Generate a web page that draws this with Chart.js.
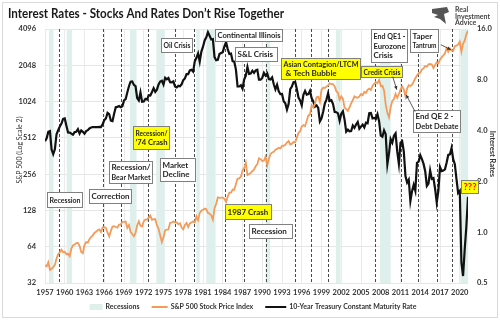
<!DOCTYPE html>
<html><head><meta charset="utf-8">
<script src="https://cdn.jsdelivr.net/npm/chart.js@4.4.1/dist/chart.umd.min.js"></script>
<style>html,body{margin:0;padding:0;background:#fff}#wrap{width:500px;height:322px;position:relative}</style>
</head><body><div id="wrap"><canvas id="c" width="500" height="322"></canvas></div>
<script>
// ---------- DATA (quarterly, starting Q1 1957) ----------
const startYear = 1957;
const spx = [
45,44,47.5,41, 42,43.4,45.2,51, 55.5,57.6,60.5,57.5, 58,55.3,56,53.4, 61.8,65.5,66.8,68.6,
68.8,65.2,57.8,56.5, 66.2,69.8,69.1,74, 77,79.5,83.2,85, 87.6,89.1,84.9,92.4, 92.9,91.6,83.6,78,
86.6,94,94.8,93.3, 92.2,97.5,97.7,103, 103,103.7,91.8,97.1, 85,81.5,78,83.3, 95.9,103.9,95.6,94.2,
103.9,107.7,107.2,111.6, 116,106.9,108.2,108.3, 96.6,90.3,79.3,70, 76.9,87.3,88.8,89, 100.9,101.6,103.4,102.1,
102,98.4,100.2,92.3, 89.3,96.8,100.7,93.2, 99.9,101.8,103.8,101.8, 114.2,106.3,121.7,127.5, 129.6,132.8,130.9,122,
120.4,116.4,107.1,133.7, 145.3,164.4,162.6,163.6, 163.4,160,150.7,166.1, 179.6,179.8,190.9,189.8, 211.8,235.5,236.1,243.9,
274.1,288.4,318.7,251.8, 257.1,261.3,272,278.9, 297.5,309.6,346,340.4, 329,330.8,356.2,304, 343.9,375.3,387.8,392.5,
408.8,414.9,424.2,418.7, 438.8,440.2,448.1,467.8, 481.6,450.9,458.3,472.4, 470.4,514.7,562.1,581.5, 636,654.2,639.9,705.3,
786.2,801.3,954.3,914.6, 980.3,1111.8,1120.7,1017, 1279.6,1335.2,1328.7,1362.9, 1394.5,1452.4,1430.8,1429.4, 1366,1249.5,1211.2,1059.8,
1130.2,1076.9,911.6,885.8, 855.7,916.9,990.3,1050.7, 1131.1,1107.3,1101.7,1130.2, 1181.3,1156.9,1234.2,1207, 1280.1,1310.6,1276.7,1377.9,
1438.2,1482.4,1455.3,1549.4, 1378.6,1385.6,1267.4,968.8, 825.9,757,919,1036.2, 1073.9,1186.7,1101.6,1183.3, 1286.1,1363.6,1292.3,1131,
1312.4,1397.9,1379.3,1412.2, 1498.1,1597.6,1685.7,1756.5, 1782.6,1883.9,1930.7,2018, 1995,2085.5,2103.8,2079.4, 1940.2,2065.3,2173.6,2126.2,
2278.9,2384.2,2470.3,2575.3, 2823.8,2648,2816.3,2711.7, 2704.1,2945.8,2980.4,3037.6, 3225.5,2652,3100,3270, 3714,3973
];
const tsy = [
3.46,3.6,3.93,3.97, 3.09,2.9,3.1,3.8, 4.02,4.23,4.4,4.69, 4.72,4.28,3.9,3.89, 3.84,3.78,3.92,3.94,
4.08,3.84,4.01,3.93, 3.83,3.97,4.02,4.12, 4.17,4.2,4.19,4.19, 4.19,4.21,4.2,4.35, 4.61,4.72,5.1,5.01,
4.58,4.55,5.04,5.5, 5.53,5.59,5.5,5.58, 6.04,6.14,6.72,7.33, 7.8,7.83,7.46,7.33, 6.24,6.03,6.73,5.93,
5.95,6.17,6.11,6.48, 6.46,6.77,7.13,6.79, 6.99,7.51,7.81,7.9, 7.5,8.23,8.06,8.19, 7.74,7.73,7.83,7.3,
7.21,7.37,7.33,7.52, 7.96,8.15,8.64,8.64, 9.1,9.18,8.95,10.3, 10.8,11.47,10.25,11.75, 12.57,13.68,14.28,15.32,
14.59,13.87,13.95,10.91, 10.46,10.51,11.38,11.54, 11.67,12.63,13.36,12.16, 11.38,11.43,10.31,10.24, 9.19,7.3,7.3,7.43,
7.08,8.02,8.45,9.52, 8.67,8.72,9.06,8.8, 9.09,9.18,8.02,8.01, 8.21,8.79,8.47,8.72, 8.09,8.04,8.27,7.53,
7.03,7.48,6.84,6.59, 6.6,5.97,5.81,5.33, 5.75,7.04,7.3,7.74, 7.78,7.06,6.28,6.04, 5.65,6.51,6.87,6.53,
6.58,6.89,6.22,5.95, 5.54,5.64,5.46,4.53, 4.72,5.18,5.79,6.11, 6.66,5.99,6.05,5.74, 5.16,5.14,5.06,4.57,
5.04,5.21,4.65,3.94, 4.05,3.96,3.98,4.29, 4.15,4.35,4.5,4.1, 4.22,4.34,4.18,4.46, 4.42,5.07,5.09,4.73,
4.76,4.69,5.0,4.53, 3.74,3.68,4.01,3.81, 2.52,2.93,3.56,3.39, 3.73,3.85,3.01,2.54, 3.39,3.46,3.0,2.15,
1.97,2.05,1.53,1.75, 1.91,1.76,2.58,2.62, 2.86,2.71,2.54,2.3, 1.88,1.94,2.32,2.07, 2.09,1.81,1.5,1.76,
2.43,2.3,2.32,2.36, 2.58,2.87,2.89,3.15, 2.71,2.53,2.06,1.71, 1.76,0.66,0.55,0.79, 1.08,1.62
];
const xTickYears = [1957,1960,1963,1966,1969,1972,1975,1978,1981,1984,1987,1990,1993,1996,1999,2002,2005,2008,2011,2014,2017,2020];
const leftTicks = [32,64,128,256,512,1024,2048,4096];
const rightTicks = [0.5,1,2,4,8,16];
const recessions = [[1957.6,1958.3],[1960.3,1961.1],[1969.9,1970.9],[1973.9,1975.2],[1980.0,1980.5],[1981.5,1982.9],[1990.5,1991.2],[2001.2,2001.9],[2007.9,2009.5],[2020.1,2021.25]];
const eventYears = [1959.1,1965.8,1968.6,1972.6,1976.7,1979.7,1984.3,1987.3,1990.5,1995.0,1997.35,2000.05,2007.2,2011.1,2013.7,2016.5,2018.85];
const seriesNames = ['S&P 500 Stock Price Index','10-Year Treasury Constant Maturity Rate'];
const recessionLabel = 'Recessions';

// annotations anchored to (year, left-axis value)
const notes = [
 {t:['Recession'], yr:1957.35, v:183, w:35, h:15},
 {t:['Correction'], yr:1963.63, v:193, w:42, h:14},
 {t:['Recession/','Bear Market'], yr:1966.67, v:331, w:43, h:22},
 {t:['Market','Decline'], yr:1974.54, v:349, w:35, h:23},
 {t:['Recession/','\u201974 Crash'], yr:1970.43, v:638, w:36, h:23, hi:true},
 {t:['1987 Crash'], yr:1984.38, v:145, w:46, h:15, hi:true},
 {t:['Recession'], yr:1987.92, v:99.5, w:43, h:14},
 {t:['Oil Crisis'], yr:1974.64, v:3449, w:31, h:14},
 {t:['Continental Illinois'], yr:1982.75, v:4090, w:67, h:12},
 {t:['S&L Crisis'], yr:1985.79, v:2904, w:42, h:14},
 {t:['Asian Contagion/LTCM',' & Tech Bubble'], yr:1992.79, v:2354, w:79, h:21, hi:true},
 {t:['End QE1 -','Eurozone','Crisis'], yr:2006.58, v:4082, w:36, h:33},
 {t:['Credit Crisis'], yr:2005.06, v:2006, w:41, h:11, hi:true},
 {t:['Taper','Tantrum'], yr:2012.41, v:4082, w:28, h:23},
 {t:['End QE 2 -','Debt Debate'], yr:2012.91, v:877, w:47, h:22},
 {t:['???'], yr:2020.16, v:230, w:17, h:13, hi:true, red:true}
];
const arrows = [
 {from:[2009.82,1647], to:[2010.43,1285]},
 {from:[2013.22,844], to:[2011.85,1168]},
 {from:[2017.12,3034], to:[2018.64,2759]}
];

// ---------- STYLE ----------
const ORANGE = '#f29b5b', BLACK = '#111111', REC = '#dff0ec';
const FONT = 'Lato, "Open Sans", sans-serif';
const TXT = '#262626';

const times = spx.map((_, i) => startYear + i * 0.25);
const spxPts = spx.map((v, i) => ({x: times[i], y: v}));
const tsyPts = tsy.map((v, i) => ({x: times[i], y: v}));

function fitText(ctx, text, x, y, maxW) {
  const w = ctx.measureText(text).width;
  const s = Math.min(1, maxW / w);
  ctx.save(); ctx.translate(x, y); ctx.scale(s, 1); ctx.fillText(text, 0, 0); ctx.restore();
  return w * s;
}

function drawArrow(ctx, x0, y0, x1, y1) {
  ctx.beginPath(); ctx.moveTo(x0, y0); ctx.lineTo(x1, y1); ctx.stroke();
  const ang = Math.atan2(y1 - y0, x1 - x0), L = 4;
  ctx.beginPath();
  ctx.moveTo(x1, y1);
  ctx.lineTo(x1 - L * Math.cos(ang - 0.45), y1 - L * Math.sin(ang - 0.45));
  ctx.lineTo(x1 - L * Math.cos(ang + 0.45), y1 - L * Math.sin(ang + 0.45));
  ctx.closePath(); ctx.fill();
}

const overlay = {
  id: 'overlay',
  beforeDatasetsDraw(chart) {
    const {ctx, chartArea: a, scales: {x}} = chart;
    ctx.save();
    ctx.fillStyle = REC;
    recessions.forEach(([s, e]) => {
      const x0 = x.getPixelForValue(s), x1 = Math.min(x.getPixelForValue(e), a.right);
      ctx.fillRect(x0, a.top, x1 - x0, a.bottom - a.top);
    });
    ctx.strokeStyle = '#4a4a4a'; ctx.lineWidth = 1; ctx.setLineDash([3, 2]);
    eventYears.forEach(v => {
      const px = Math.round(x.getPixelForValue(v)) + 0.5;
      ctx.beginPath(); ctx.moveTo(px, a.top); ctx.lineTo(px, a.bottom); ctx.stroke();
    });
    ctx.restore();
  },
  afterDatasetsDraw(chart) {
    const {ctx, scales: {x, y}} = chart;
    ctx.save();
    ctx.textBaseline = 'middle';
    notes.forEach(n => {
      const bx = Math.round(x.getPixelForValue(n.yr)), by = Math.round(y.getPixelForValue(n.v));
      ctx.fillStyle = n.hi ? '#ffff00' : '#ffffff';
      ctx.fillRect(bx, by, n.w, n.h);
      ctx.strokeStyle = '#808080'; ctx.lineWidth = 1;
      ctx.strokeRect(bx + 0.5, by + 0.5, n.w, n.h);
      if (n.red) {
        ctx.font = 'bold 10px ' + FONT; ctx.fillStyle = '#ff0000';
      } else {
        ctx.font = 'bold 8px ' + FONT; ctx.fillStyle = TXT;
      }
      const lh = n.red ? 11 : 9.6;
      const top = by + (n.h - lh * n.t.length) / 2 + 0.5;
      n.t.forEach((l, i) => fitText(ctx, l, bx + 2.5, top + lh * (i + 0.5), n.w - 4));
    });
    ctx.strokeStyle = '#333'; ctx.fillStyle = '#333'; ctx.lineWidth = 0.8;
    arrows.forEach(ar => {
      drawArrow(ctx, x.getPixelForValue(ar.from[0]), y.getPixelForValue(ar.from[1]),
                     x.getPixelForValue(ar.to[0]), y.getPixelForValue(ar.to[1]));
    });
    ctx.restore();
  },
  afterDraw(chart) {
    const {ctx} = chart;
    ctx.save();
    // frame
    ctx.strokeStyle = '#d9d9d9'; ctx.lineWidth = 1;
    ctx.strokeRect(2.5, 2.5, 495, 315);
    // title
    ctx.fillStyle = '#1a1a1a'; ctx.font = 'bold 14px ' + FONT;
    ctx.textBaseline = 'middle'; ctx.textAlign = 'left';
    fitText(ctx, 'Interest Rates - Stocks And Rates Don\u2019t Rise Together', 8, 13, 276);
    // logo
    ctx.fillStyle = '#555';
    ctx.beginPath();
    ctx.moveTo(432, 9); ctx.lineTo(447, 7); ctx.lineTo(449, 12); ctx.lineTo(444, 14);
    ctx.lineTo(446, 24); ctx.lineTo(440, 19); ctx.lineTo(434, 17); ctx.lineTo(438, 15); ctx.lineTo(432, 13);
    ctx.closePath(); ctx.fill();
    ctx.fillStyle = '#444'; ctx.font = 'bold 7px ' + FONT;
    ctx.fillText('Real', 455, 10); ctx.fillText('Investment', 455, 16.3); ctx.fillText('Advice', 455, 22.6);
    // axis titles
    ctx.fillStyle = '#333'; ctx.font = '7px ' + FONT; ctx.textAlign = 'center';
    ctx.save(); ctx.translate(20, 150); ctx.rotate(-Math.PI / 2);
    ctx.fillText('S&P 500 (Log Scale 2)', 0, 0); ctx.restore();
    ctx.font = 'bold 7.5px ' + FONT;
    ctx.save(); ctx.translate(492, 154); ctx.rotate(Math.PI / 2);
    ctx.fillText('Interest Rates', 0, 0); ctx.restore();
    // legend
    ctx.font = 'bold 7px ' + FONT; ctx.textAlign = 'left';
    const ly = 307;
    const items = [
      {kind: 'box', w: 13, label: recessionLabel},
      {kind: 'line', w: 16, color: ORANGE, label: seriesNames[0]},
      {kind: 'line', w: 21, color: BLACK, label: seriesNames[1]}
    ];
    const gapSym = 3, gapItem = 12;
    let total = 0;
    items.forEach((it, i) => { it.tw = ctx.measureText(it.label).width; total += it.w + gapSym + it.tw + (i ? gapItem : 0); });
    let cx = 253 - total / 2;
    items.forEach((it, i) => {
      if (i) cx += gapItem;
      if (it.kind === 'box') { ctx.fillStyle = REC; ctx.fillRect(cx, ly - 3, it.w, 6); }
      else { ctx.strokeStyle = it.color; ctx.lineWidth = 2; ctx.beginPath(); ctx.moveTo(cx, ly); ctx.lineTo(cx + it.w, ly); ctx.stroke(); }
      cx += it.w + gapSym;
      ctx.fillStyle = '#333'; ctx.fillText(it.label, cx, ly);
      cx += it.tw;
    });
    ctx.restore();
  }
};

const tickFont = {family: FONT, size: 7.5, weight: 'bold'};
new Chart(document.getElementById('c'), {
  type: 'line',
  data: {
    datasets: [
      {label: seriesNames[0], data: spxPts, yAxisID: 'y', borderColor: ORANGE, borderWidth: 1.8, pointRadius: 0, tension: 0},
      {label: seriesNames[1], data: tsyPts, yAxisID: 'y2', borderColor: BLACK, borderWidth: 2.2, pointRadius: 0, tension: 0}
    ]
  },
  options: {
    responsive: false, animation: false, devicePixelRatio: 1,
    layout: {padding: {top: 29, left: 0, right: 0, bottom: 0}},
    plugins: {legend: {display: false}, tooltip: {enabled: false}, title: {display: false}},
    scales: {
      x: {
        type: 'linear', min: 1957, max: 2021.25,
        afterBuildTicks: s => { s.ticks = xTickYears.map(v => ({value: v})); },
        afterFit: s => { s.height = 39; },
        grid: {color: '#ebebeb', drawTicks: false},
        border: {display: false},
        ticks: {padding: 5, font: tickFont, color: '#333', autoSkip: false, maxRotation: 0, callback: v => String(v)}
      },
      y: {
        type: 'logarithmic', position: 'left', min: 32, max: 4096,
        afterBuildTicks: s => { s.ticks = leftTicks.map(v => ({value: v})); },
        afterFit: s => { s.width = 45; },
        grid: {color: '#e6e6e6', drawTicks: false},
        border: {display: false},
        ticks: {padding: 9, font: tickFont, color: '#333', autoSkip: false, callback: v => String(v)}
      },
      y2: {
        type: 'logarithmic', position: 'right', min: 0.5, max: 16,
        afterBuildTicks: s => { s.ticks = rightTicks.map(v => ({value: v})); },
        afterFit: s => { s.width = 32; },
        grid: {display: false, drawTicks: false},
        border: {display: false},
        ticks: {padding: 9, font: tickFont, color: '#333', autoSkip: false, callback: v => Number(v).toFixed(1)}
      }
    }
  },
  plugins: [overlay]
});
</script>
</body></html>
